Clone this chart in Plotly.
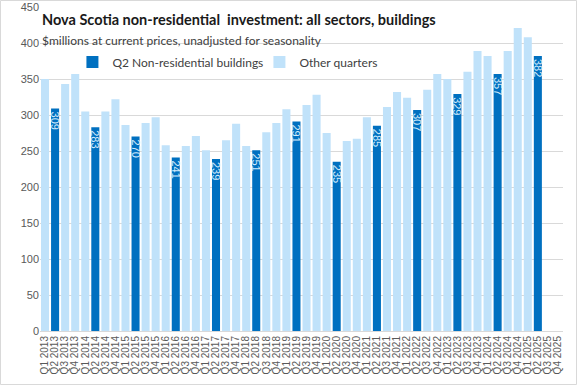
import plotly.graph_objects as go

quarters = [f"Q{q} {y}" for y in range(2013, 2026) for q in range(1, 5)]

values = [350, 309, 343, 357,
          305, 283, 305, 322,
          286, 270, 289, 297,
          258, 241, 257, 271,
          251, 239, 265, 288,
          257, 251, 276, 289,
          308, 291, 314, 328,
          275, 235, 264, 267,
          297, 285, 311, 332,
          324, 307, 335, 357,
          350, 329, 360, 389,
          382, 357, 389, 421,
          408, 382]

q2_vals = [v if quarters[i].startswith("Q2") else None for i, v in enumerate(values)]
other_vals = [v if not quarters[i].startswith("Q2") else None for i, v in enumerate(values)]

dark = "#0070C0"
light = "#C0E2FA"

fig = go.Figure()
fig.add_trace(go.Bar(
    x=quarters[:len(values)], y=q2_vals, name="Q2 Non-residential buildings",
    marker=dict(color=dark, line=dict(width=0)),
    text=[str(v) if v is not None else "" for v in q2_vals],
    textposition="inside", insidetextanchor="end", textangle=90,
    textfont=dict(color="#D4ECFC", size=11, family="Liberation Sans"),
    constraintext="none",
))
fig.add_trace(go.Bar(
    x=quarters[:len(values)], y=other_vals, name="Other quarters",
    marker=dict(color=light, line=dict(width=0)),
))

fig.update_layout(
    width=577, height=385,
    margin=dict(l=40, r=14, t=7, b=54),
    paper_bgcolor="white", plot_bgcolor="white",
    barmode="overlay", bargap=0.2,
    uniformtext=dict(mode="show", minsize=11),
    font=dict(family="Liberation Sans", color="#595959", size=11),
    showlegend=True,
    legend=dict(orientation="h", x=0.062, xanchor="left", y=0.83, yanchor="middle",
                font=dict(family="Lato", size=12, color="#404040"),
                bgcolor="rgba(0,0,0,0)", itemwidth=30, entrywidth=142, tracegroupgap=0),
    xaxis=dict(type="category", categoryorder="array", categoryarray=quarters,
               range=[-0.5, len(quarters) - 0.5], automargin=False,
               tickmode="linear", dtick=1,
               tickangle=-90, tickfont=dict(size=10, color="#595959"),
               showgrid=False, showline=True, linecolor="#D9D9D9", ticks=""),
    yaxis=dict(range=[0, 450], dtick=50, showgrid=True, gridcolor="#D9D9D9",
               automargin=False,
               zeroline=False, ticks="", tickfont=dict(size=11, color="#595959")),
    annotations=[
        dict(text="<b>Nova Scotia non-residential  investment: all sectors, buildings</b>",
             xref="paper", yref="paper", x=0.0, y=(331 - 19) / 324, xanchor="left", yanchor="middle",
             showarrow=False, font=dict(family="Lato", size=14.5, color="#1a1a1a")),
        dict(text="$millions at current prices, unadjusted for seasonality",
             xref="paper", yref="paper", x=0.0, y=(331 - 40) / 324, xanchor="left", yanchor="middle",
             showarrow=False, font=dict(family="Lato", size=12, color="#404040")),
    ],
    shapes=[dict(type="rect", xref="paper", yref="paper",
                 x0=-39.5 / 523, x1=1 + 13.5 / 523, y0=-53.5 / 324, y1=1 + 6.5 / 324,
                 line=dict(color="#D9D9D9", width=1))],
)

fig.write_html("out.html", config={"displayModeBar": False},
               post_script="document.body.style.margin='0';document.body.style.padding='0';")
